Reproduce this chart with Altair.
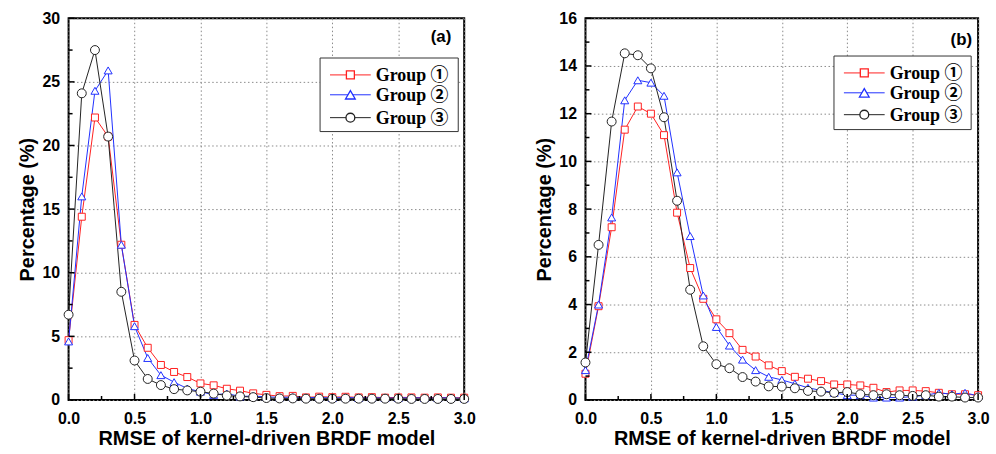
import altair as alt
import pandas as pd

# ---------------- data ----------------
rmse = [0.0, 0.1, 0.2, 0.3, 0.4, 0.5, 0.6, 0.7, 0.8, 0.9, 1.0,
        1.1, 1.2, 1.3, 1.4, 1.5, 1.6, 1.7, 1.8, 1.9, 2.0,
        2.1, 2.2, 2.3, 2.4, 2.5, 2.6, 2.7, 2.8, 2.9, 3.0]

groups = ["Group \u2460", "Group \u2461", "Group \u2462"]
panel_labels = ["(a)", "(b)"]

# panel (a)
a_g1 = [4.7, 14.4, 22.2, 20.7, 12.2, 5.9, 4.1, 2.75, 2.2, 1.8, 1.3,
        1.15, 0.88, 0.73, 0.52, 0.4, 0.3, 0.32, 0.2, 0.26, 0.22,
        0.25, 0.2, 0.22, 0.18, 0.2, 0.2, 0.18, 0.2, 0.18, 0.18]
a_g2 = [4.6, 16.0, 24.3, 25.9, 12.2, 5.8, 3.3, 1.95, 1.4, 0.9, 0.65,
        0.4, 0.5, 0.28, 0.3, 0.25, 0.2, 0.22, 0.18, 0.2, 0.15,
        0.2, 0.15, 0.18, 0.15, 0.15, 0.18, 0.15, 0.15, 0.18, 0.12]
a_g3 = [6.7, 24.1, 27.5, 20.7, 8.5, 3.1, 1.65, 1.17, 0.85, 0.75, 0.65,
        0.5, 0.35, 0.28, 0.22, 0.15, 0.12, 0.12, 0.1, 0.1, 0.1,
        0.1, 0.1, 0.1, 0.1, 0.1, 0.08, 0.08, 0.08, 0.08, 0.08]

# panel (b)
b_g1 = [1.1, 3.93, 7.24, 11.33, 12.3, 12.0, 11.1, 7.85, 5.53, 4.24, 3.38,
        2.8, 2.1, 1.82, 1.45, 1.21, 0.97, 0.89, 0.79, 0.65, 0.65,
        0.61, 0.51, 0.33, 0.4, 0.4, 0.37, 0.3, 0.24, 0.24, 0.2]
b_g2 = [1.25, 4.0, 7.65, 12.56, 13.4, 13.3, 12.75, 9.54, 6.87, 4.38, 3.06,
        2.28, 1.69, 1.25, 0.97, 0.84, 0.68, 0.51, 0.4, 0.3, 0.2,
        0.2, 0.1, 0.1, 0.1, 0.14, 0.2, 0.3, 0.24, 0.3, 0.17]
b_g3 = [1.57, 6.5, 11.67, 14.53, 14.45, 13.9, 11.85, 8.35, 4.62, 2.25, 1.5,
        1.33, 0.96, 0.77, 0.57, 0.56, 0.49, 0.38, 0.35, 0.3, 0.33,
        0.24, 0.2, 0.24, 0.2, 0.17, 0.2, 0.14, 0.14, 0.1, 0.1]

x_major = [0.0, 0.5, 1.0, 1.5, 2.0, 2.5, 3.0]
x_minor = [0.25, 0.75, 1.25, 1.75, 2.25, 2.75]
a_y_major = [0, 5, 10, 15, 20, 25, 30]
a_y_minor = [2.5, 7.5, 12.5, 17.5, 22.5, 27.5]
b_y_major = [0, 2, 4, 6, 8, 10, 12, 14, 16]
b_y_minor = [1, 3, 5, 7, 9, 11, 13, 15]

# ---------------- style ----------------
colors = ["#ff2020", "#2030ff", "#222222"]
shapes = ["square", "triangle-up", "circle"]
sizes = [49, 81, 64]
H = 384
SANS = "Liberation Sans"
SERIF = "'Liberation Serif', 'Noto Sans CJK SC', serif"


def panel(series, ymax, y_major, y_minor, label, width, leg_rows, leg_box, lab_pos):
    rows = []
    for gi, (g, vals) in enumerate(zip(groups, series)):
        for xv, yv in zip(rmse, vals):
            rows.append({"x": xv, "y": yv, "group": g, "gi": gi})
    df = pd.DataFrame(rows)

    xs = alt.Scale(domain=[0, 3], nice=False, zero=False)
    ys = alt.Scale(domain=[0, ymax], nice=False, zero=True)
    xaxis = alt.Axis(values=x_major, format=".1f", title="RMSE of kernel-driven BRDF model",
                     grid=True, ticks=False, tickSize=0, domain=False, labelFlush=False,
                     labelPadding=11, titlePadding=2)
    yaxis = alt.Axis(values=y_major, format="d", title="Percentage (%)",
                     grid=True, ticks=False, tickSize=0, domain=False, labelFlush=False,
                     labelPadding=9, titlePadding=4)
    X = alt.X("x:Q", scale=xs, axis=xaxis)
    Y = alt.Y("y:Q", scale=ys, axis=yaxis)
    stroke_enc = alt.Stroke("group:N", scale=alt.Scale(domain=groups, range=colors), legend=None)

    lines = alt.Chart(df).mark_line(strokeWidth=1).encode(
        x=X, y=Y, stroke=stroke_enc, detail="group:N",
    )
    pts = alt.Chart(df).mark_point(fill="white", fillOpacity=1, opacity=1, strokeWidth=1).encode(
        x=X, y=Y,
        stroke=stroke_enc,
        shape=alt.Shape("group:N", scale=alt.Scale(domain=groups, range=shapes), legend=None),
        size=alt.Size("group:N", scale=alt.Scale(domain=groups, range=sizes), legend=None),
        order=alt.Order("gi:Q"),
    )

    # inward ticks
    xt_maj = alt.Chart(pd.DataFrame({"x": x_major})).mark_rule(color="black", strokeWidth=1.5).encode(
        x=X, y=alt.value(H), y2=alt.value(H - 6))
    xt_min = alt.Chart(pd.DataFrame({"x": x_minor})).mark_rule(color="black", strokeWidth=1.5).encode(
        x=X, y=alt.value(H), y2=alt.value(H - 4))
    yt_maj = alt.Chart(pd.DataFrame({"y": y_major})).mark_rule(color="black", strokeWidth=1.5).encode(
        y=Y, x=alt.value(0), x2=alt.value(6))
    yt_min = alt.Chart(pd.DataFrame({"y": y_minor})).mark_rule(color="black", strokeWidth=1.5).encode(
        y=Y, x=alt.value(0), x2=alt.value(4))

    # legend
    one = pd.DataFrame({"a": [0]})
    bx0, bx1, by0, by1 = leg_box
    box = alt.Chart(one).mark_rect(fill="white", stroke="#333333", strokeWidth=1).encode(
        x=alt.value(bx0), x2=alt.value(bx1), y=alt.value(by0), y2=alt.value(by1))
    legend_layers = [box]
    for gi, g in enumerate(groups):
        ly = leg_rows[gi]
        gdf = pd.DataFrame({"group": [g]})
        legend_layers.append(alt.Chart(gdf).mark_rule(color=colors[gi], strokeWidth=1).encode(
            x=alt.value(bx0 + 10), x2=alt.value(bx0 + 51), y=alt.value(ly)))
        legend_layers.append(alt.Chart(gdf).mark_point(
            shape=shapes[gi], size=sizes[gi] + 15, fill="white", fillOpacity=1, opacity=1,
            stroke=colors[gi], strokeWidth=1.3).encode(
            x=alt.value(bx0 + 30.5), y=alt.value(ly)))
        legend_layers.append(alt.Chart(gdf).mark_text(
            align="left", baseline="middle", font=SERIF, fontWeight="bold", fontSize=18,
            color="black").encode(
            x=alt.value(bx0 + 56), y=alt.value(ly + 1), text="group:N"))

    lab = alt.Chart(pd.DataFrame({"label": [label]})).mark_text(
        align="right", baseline="middle", font=SANS, fontWeight="bold", fontSize=17,
        color="black").encode(x=alt.value(lab_pos[0]), y=alt.value(lab_pos[1]), text="label:N")

    return alt.layer(lines, pts, xt_maj, xt_min, yt_maj, yt_min, *legend_layers, lab).properties(
        width=width, height=H)


left = panel([a_g1, a_g2, a_g3], 30, a_y_major, a_y_minor, panel_labels[0], 398,
             [57, 77, 100], (253, 392, 40, 114), (385, 19))
right = panel([b_g1, b_g2, b_g3], 16, b_y_major, b_y_minor, panel_labels[1], 395,
              [55, 75, 97], (250, 388, 38, 112), (389, 22))

chart = alt.hconcat(left, right, spacing=122, bounds="flush").properties(
    padding={"left": 17, "top": 8, "right": 5, "bottom": 2},
    background="white",
).configure_view(
    stroke="black", strokeWidth=2
).configure_axis(
    labelFont=SANS, labelFontWeight="bold", labelFontSize=16, labelColor="black",
    titleFont=SANS, titleFontWeight="bold", titleFontSize=20, titleColor="black",
    gridColor="#8a8a8a", gridDash=[1.5, 2.5], gridWidth=1, gridOpacity=1,
)

chart.save("out.html", embed_options={"renderer": "svg", "actions": False})
